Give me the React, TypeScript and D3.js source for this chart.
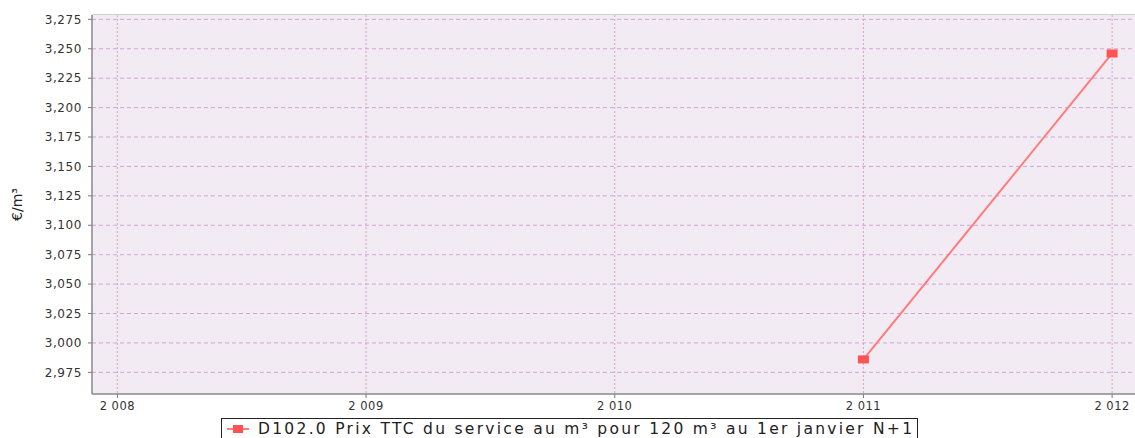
import React from "react";
import * as d3 from "d3";

const width = 1135;
const height = 438;
const margin = { top: 15, right: 0, bottom: 44, left: 92 };

const years = [2008, 2009, 2010, 2011, 2012];
const seriesYears = [2011, 2012];
const seriesValues = [2.986, 3.246];
const yTicks = [2.975, 3.0, 3.025, 3.05, 3.075, 3.1, 3.125, 3.15, 3.175, 3.2, 3.225, 3.25, 3.275];
const seriesName = "D102.0 Prix TTC du service au m³ pour 120 m³ au 1er janvier N+1";
const yLabel = "€/m³";

const font = "'DejaVu Sans', sans-serif";

const fmtY = (v: number) => v.toFixed(3).replace(".", ",");
const fmtX = (v: number) => String(v).replace(/^(\d)(\d{3})$/, "$1 $2");

export default function App() {
  const x = d3
    .scaleLinear()
    .domain([2007.898, 2012.092])
    .range([margin.left, width - margin.right]);
  const y = d3
    .scaleLinear()
    .domain([2.9566, 3.2787])
    .range([height - margin.bottom, margin.top]);

  const line = d3
    .line<number>()
    .x((_, i) => x(seriesYears[i]))
    .y((d) => y(d));

  const plotBottom = height - margin.bottom;

  return (
    <svg
      width={width}
      height={height}
      style={{ position: "absolute", left: 0, top: 0 }}
      fontFamily={font}
    >
      <rect x={0} y={0} width={width} height={height} fill="#fff" />
      <rect
        x={margin.left}
        y={margin.top}
        width={width - margin.left - margin.right}
        height={plotBottom - margin.top}
        fill="#f3ebf3"
      />
      {yTicks.map((t) => (
        <g key={t}>
          <line
            x1={margin.left}
            x2={width}
            y1={y(t)}
            y2={y(t)}
            stroke="#cfa6d2"
            strokeDasharray="4,3"
          />
          <line x1={margin.left - 4} x2={margin.left} y1={y(t)} y2={y(t)} stroke="#777" />
          <text
            x={82}
            y={y(t)}
            dy="0.35em"
            textAnchor="end"
            fontSize={12}
            fill="#333"
            letterSpacing={0.6}
          >
            {fmtY(t)}
          </text>
        </g>
      ))}
      {years.map((yr) => (
        <g key={yr}>
          <line
            x1={x(yr)}
            x2={x(yr)}
            y1={margin.top}
            y2={plotBottom}
            stroke="#cfa6d2"
            strokeDasharray="2,2"
          />
          <line x1={x(yr)} x2={x(yr)} y1={plotBottom} y2={plotBottom + 4} stroke="#777" />
          <text
            x={x(yr)}
            y={plotBottom + 16}
            textAnchor="middle"
            fontSize={11.5}
            fill="#333"
            letterSpacing={0.5}
          >
            {fmtX(yr)}
          </text>
        </g>
      ))}
      <line x1={margin.left} x2={width} y1={margin.top - 0.5} y2={margin.top - 0.5} stroke="#cfcfcf" />
      <line x1={margin.left} x2={margin.left} y1={margin.top} y2={plotBottom} stroke="#888" strokeWidth={1.5} />
      <line x1={margin.left} x2={width} y1={plotBottom} y2={plotBottom} stroke="#888" strokeWidth={1.5} />

      <path d={line(seriesValues) || ""} fill="none" stroke="#ff7a7a" strokeWidth={2} />
      {seriesValues.map((v, i) => (
        <rect
          key={i}
          x={x(seriesYears[i]) - 5.5}
          y={y(v) - 4}
          width={11}
          height={8}
          fill="#ff5252"
        />
      ))}

      <text
        transform={`translate(22,${(margin.top + plotBottom) / 2}) rotate(-90)`}
        textAnchor="middle"
        fontSize={14}
        fill="#222"
      >
        {yLabel}
      </text>

      <rect x={221.5} y={418.5} width={696} height={30} fill="#fff" stroke="#222" />
      <line x1={227} x2={249} y1={429} y2={429} stroke="#ff5252" strokeWidth={1.5} />
      <rect x={233} y={425} width={10} height={8} fill="#ff5252" />
      <text
        x={258}
        y={434}
        fontSize={15.5}
        fill="#222"
        textLength={654}
        lengthAdjust="spacing"
      >
        {seriesName}
      </text>
    </svg>
  );
}
